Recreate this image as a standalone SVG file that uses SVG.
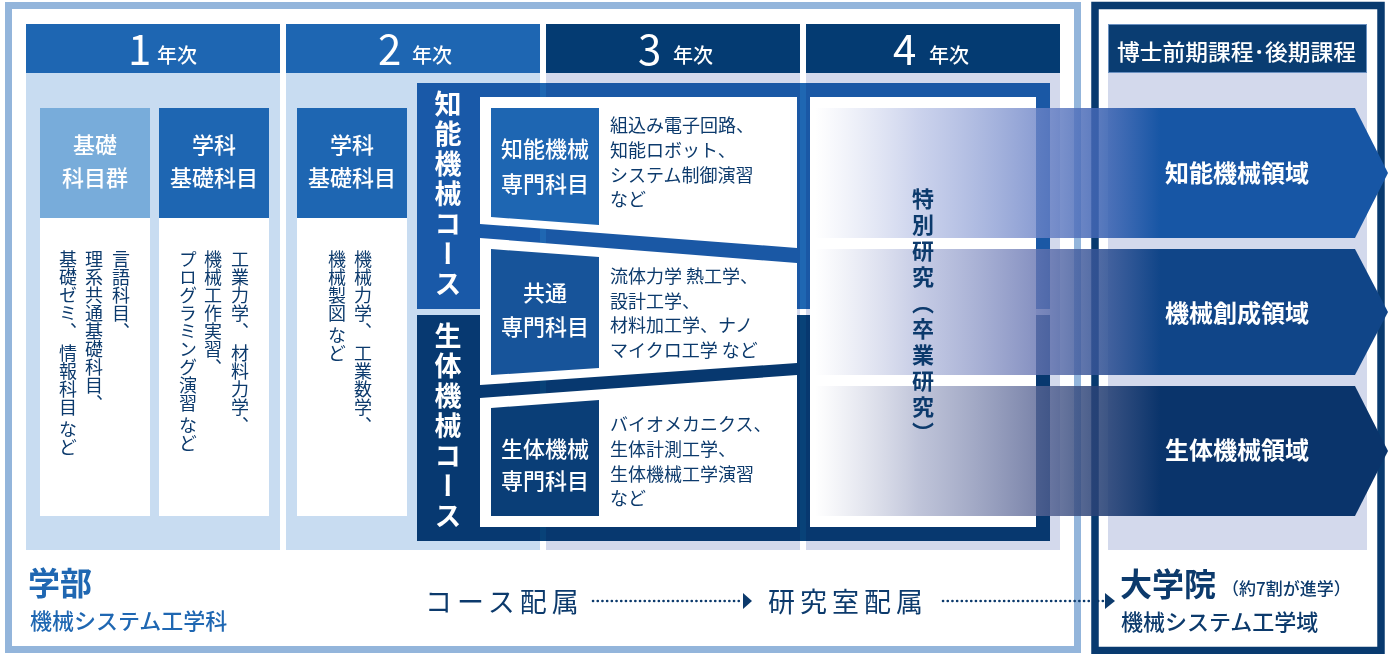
<svg xmlns="http://www.w3.org/2000/svg" width="1389" height="654" viewBox="0 0 1389 654">
<style>
.t{font-family:"Noto Sans CJK JP","Noto Sans",sans-serif}
.n{fill:#0c3a6c}
.w{fill:#fff}
.v{writing-mode:vertical-rl}
.hd{font-size:20px;font-weight:500;fill:#fff}
.dg{font-size:42px;font-weight:400;fill:#fff}
.lb{font-size:22px;font-weight:500;fill:#fff;text-anchor:middle}
.sb{font-size:22px;font-weight:500;fill:#fff;text-anchor:middle}
.ds{font-size:18px;fill:#0c3a6c}
.vt{font-size:18px;fill:#0c3a6c}
.ar{font-size:24px;font-weight:700;fill:#fff;text-anchor:middle}
.mul{mix-blend-mode:multiply}
.dot{fill:none;stroke:#0c3a6c;stroke-width:2.6;stroke-dasharray:0.1 4.6;stroke-linecap:round}
</style>
<defs>
<linearGradient id="g1" gradientUnits="userSpaceOnUse" x1="815" y1="0" x2="1160" y2="0">
<stop offset="0" stop-color="#b8c2e4" stop-opacity="0"/>
<stop offset="0.3" stop-color="#a9b5e0" stop-opacity="0.6"/>
<stop offset="0.64" stop-color="#6f86c8" stop-opacity="0.8"/>
<stop offset="0.8" stop-color="#4668b6" stop-opacity="0.85"/>
<stop offset="1" stop-color="#1756a5" stop-opacity="1"/>
</linearGradient>
<linearGradient id="g2" gradientUnits="userSpaceOnUse" x1="815" y1="0" x2="1160" y2="0">
<stop offset="0" stop-color="#b0b8da" stop-opacity="0"/>
<stop offset="0.3" stop-color="#a0aad4" stop-opacity="0.6"/>
<stop offset="0.64" stop-color="#6876b2" stop-opacity="0.8"/>
<stop offset="0.8" stop-color="#3a5698" stop-opacity="0.85"/>
<stop offset="1" stop-color="#104588" stop-opacity="1"/>
</linearGradient>
<linearGradient id="g3" gradientUnits="userSpaceOnUse" x1="815" y1="0" x2="1160" y2="0">
<stop offset="0" stop-color="#a8aecb" stop-opacity="0"/>
<stop offset="0.3" stop-color="#959dc0" stop-opacity="0.6"/>
<stop offset="0.64" stop-color="#5b6796" stop-opacity="0.8"/>
<stop offset="0.8" stop-color="#2d4478" stop-opacity="0.85"/>
<stop offset="1" stop-color="#0a346b" stop-opacity="1"/>
</linearGradient>
</defs>
<rect x="0" y="0" width="1389" height="654" fill="#fff"/>

<g id="columns">
<rect x="26" y="73" width="254" height="477" fill="#c8dcf1"/>
<rect x="286" y="73" width="254" height="477" fill="#c8dcf1"/>
<rect x="546" y="73" width="254" height="477" fill="#d3d9ec"/>
<rect x="806" y="73" width="254" height="477" fill="#d3d9ec"/>
<rect x="1108" y="73" width="259" height="477" fill="#d3d9ec"/>
</g>

<g id="headers" class="t">
<rect x="26" y="24" width="254" height="49" fill="#1e66b2"/>
<rect x="286" y="24" width="254" height="49" fill="#1e66b2"/>
<rect x="546" y="24" width="254" height="49" fill="#043b72"/>
<rect x="806" y="24" width="254" height="49" fill="#043b72"/>
<rect x="1108.5" y="24.5" width="258" height="48" fill="#0a3d72" stroke="#6a90c0" stroke-width="1"/>
<text class="dg" x="128" y="65">1</text><text class="hd" x="157" y="63">年次</text>
<text class="dg" x="378" y="65">2</text><text class="hd" x="412" y="63">年次</text>
<text class="dg" x="638" y="65">3</text><text class="hd" x="673" y="63">年次</text>
<text class="dg" x="893" y="65">4</text><text class="hd" x="929" y="63">年次</text>
<text x="1117" y="59.5" font-size="22" font-weight="500" fill="#fff" textLength="239" lengthAdjust="spacingAndGlyphs">博士前期課程･後期課程</text>
</g>

<g id="frames" fill="none">
<rect x="8.5" y="5.5" width="1069" height="644" stroke="#93b5db" stroke-width="7"/>
<rect x="1095" y="5.5" width="286" height="645" stroke="#083a6f" stroke-width="7.5"/>
</g>

<g id="kiso" class="t">
<rect x="40" y="108" width="110" height="110" fill="#78acda"/>
<rect x="40" y="218" width="110" height="298" fill="#fff"/>
<text class="lb" x="95" y="153">基礎</text>
<text class="lb" x="95" y="186">科目群</text>
<text class="vt v" x="121" y="250">言語科目、</text>
<text class="vt v" x="94" y="250">理系共通基礎科目、</text>
<text class="vt v" x="68" y="250">基礎ゼミ、 情報科目 など</text>
</g>

<g id="gakka1" class="t">
<rect x="159" y="108" width="110" height="110" fill="#1e66b2"/>
<rect x="159" y="218" width="110" height="298" fill="#fff"/>
<text class="lb" x="214" y="153">学科</text>
<text class="lb" x="214" y="186">基礎科目</text>
<text class="vt v" x="240" y="250">工業力学、 材料力学、</text>
<text class="vt v" x="213" y="250">機械工作実習、</text>
<text class="vt v" x="188" y="250">プログラミング演習 など</text>
</g>

<g id="gakka2" class="t">
<rect x="297" y="108" width="110" height="110" fill="#1e66b2"/>
<rect x="297" y="218" width="110" height="298" fill="#fff"/>
<text class="lb" x="352" y="153">学科</text>
<text class="lb" x="352" y="186">基礎科目</text>
<text class="vt v" x="363" y="250">機械力学、 工業数学、</text>
<text class="vt v" x="337" y="250">機械製図 など</text>
</g>

<g id="course-chino">
<rect class="mul" x="417" y="83" width="633" height="226" fill="#1f67b2"/>
<text class="t v" x="448" y="90" font-size="27" font-weight="700" fill="#fff" letter-spacing="3">知能機械コース</text>
</g>
<g id="course-seitai">
<rect class="mul" x="417" y="315" width="633" height="226" fill="#084278"/>
<text class="t v" x="448" y="322" font-size="27" font-weight="700" fill="#fff" letter-spacing="3">生体機械コース</text>
</g>

<g id="senmon-chino" class="t">
<polygon points="480,97 797,97 797,248 480,224" fill="#fff"/>
<polygon points="491,108 599,108 599,225 491,217" fill="#1e66b2"/>
<text class="sb" x="545" y="157">知能機械</text>
<text class="sb" x="545" y="192">専門科目</text>
<text class="ds" x="610" y="132">組込み電子回路、</text>
<text class="ds" x="610" y="157">知能ロボット、</text>
<text class="ds" x="610" y="182">システム制御演習</text>
<text class="ds" x="610" y="206">など</text>
</g>

<g id="senmon-kyotsu" class="t">
<polygon points="480,238 797,263 797,363 480,385" fill="#fff"/>
<polygon points="491,249 599,257 599,368 491,375" fill="#17549a"/>
<text class="sb" x="545" y="301">共通</text>
<text class="sb" x="545" y="335">専門科目</text>
<text class="ds" x="610" y="283">流体力学 熱工学、</text>
<text class="ds" x="610" y="308">設計工学、</text>
<text class="ds" x="610" y="332">材料加工学、ナノ</text>
<text class="ds" x="610" y="357">マイクロ工学 など</text>
</g>

<g id="senmon-seitai" class="t">
<polygon points="480,398 797,375 797,527 480,527" fill="#fff"/>
<polygon points="491,408 599,400 599,516 491,516" fill="#0a3e77"/>
<text class="sb" x="545" y="457">生体機械</text>
<text class="sb" x="545" y="489">専門科目</text>
<text class="ds" x="610" y="431">バイオメカニクス、</text>
<text class="ds" x="610" y="456">生体計測工学、</text>
<text class="ds" x="610" y="481">生体機械工学演習</text>
<text class="ds" x="610" y="505">など</text>
</g>

<g id="tokubetsu-box">
<rect x="810" y="97" width="226" height="430" fill="#fff"/>
</g>

<g id="connectors">
<polygon points="812,108 1355,108 1388,173 1355,238 812,238" fill="url(#g1)"/>
<polygon points="812,249 1355,249 1388,312 1355,375 812,375" fill="url(#g2)"/>
<polygon points="812,386 1355,386 1388,451 1355,516 812,516" fill="url(#g3)"/>
<line class="dot" x1="593" y1="601" x2="740" y2="601"/>
<path d="M743,593 L752,601 L743,609 Z" fill="#0c3a6c"/>
<line class="dot" x1="943" y1="601" x2="1103" y2="601"/>
<path d="M1105,593 L1115,601 L1105,609 Z" fill="#0c3a6c"/>
</g>

<g id="tokubetsu" class="t">
<text class="v" x="923" y="188" font-size="22" font-weight="700" fill="#0c3a6c" letter-spacing="4">特別研究（卒業研究）</text>
</g>

<g id="ryoiki" class="t">
<text class="ar" x="1237" y="181.5">知能機械領域</text>
<text class="ar" x="1237" y="321.5">機械創成領域</text>
<text class="ar" x="1237" y="458.5">生体機械領域</text>
</g>

<g id="gakubu" class="t">
<text x="28" y="595" font-size="32" font-weight="700" fill="#1f67b2">学部</text>
<text x="30" y="629" font-size="22" font-weight="500" fill="#1f67b2">機械システム工学科</text>
</g>

<g id="haizoku" class="t">
<text x="425" y="612" font-size="27" fill="#0c3a6c" letter-spacing="5">コース配属</text>
<text x="768" y="612" font-size="27" fill="#0c3a6c" letter-spacing="5">研究室配属</text>
</g>

<g id="daigakuin" class="t">
<text x="1120" y="596" font-size="32" font-weight="700" fill="#0c3a6c">大学院</text>
<text x="1222" y="595" font-size="17" font-weight="500" fill="#0c3a6c">（約7割が進学）</text>
<text x="1121" y="630" font-size="22" font-weight="500" fill="#0c3a6c">機械システム工学域</text>
</g>
</svg>
